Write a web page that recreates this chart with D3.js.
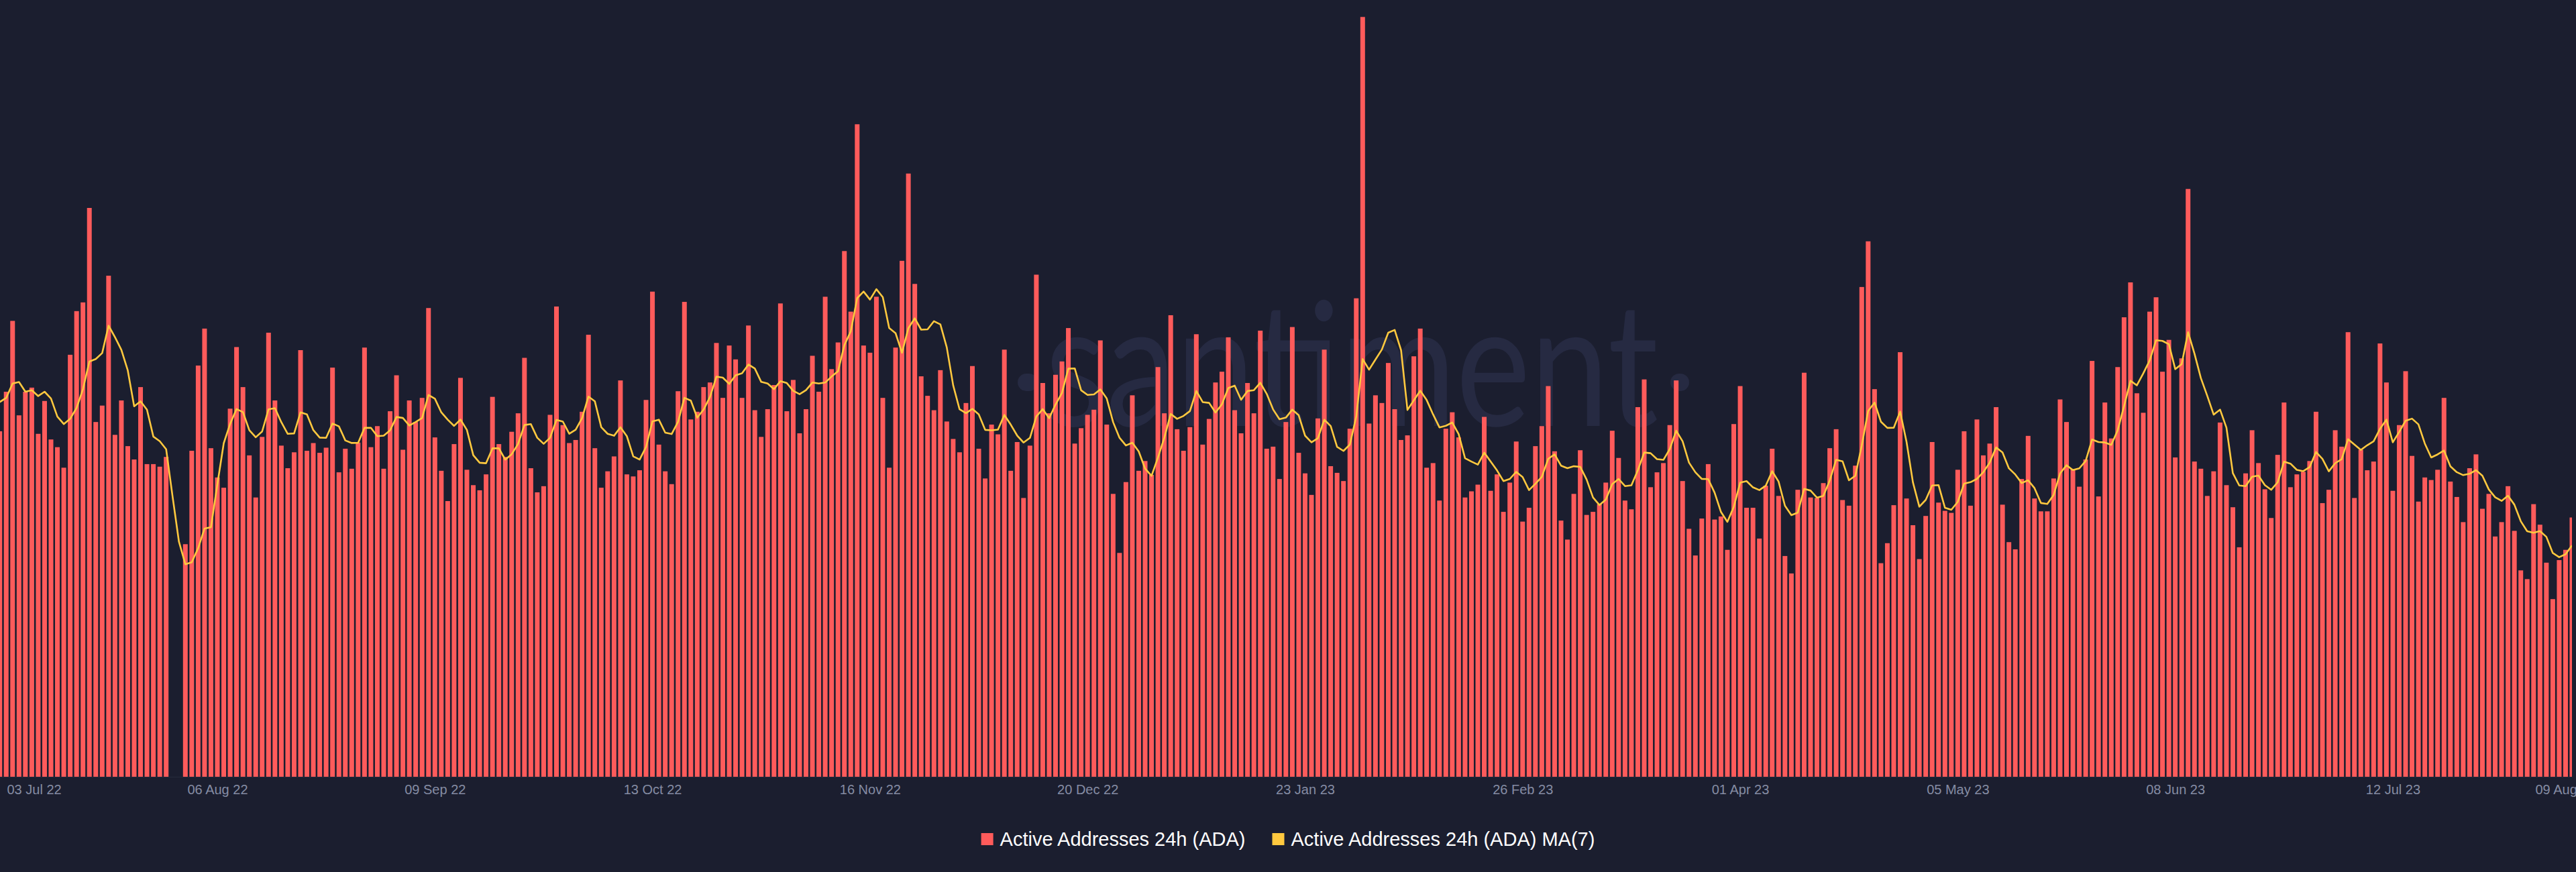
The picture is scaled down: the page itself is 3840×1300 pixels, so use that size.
<!DOCTYPE html>
<html>
<head>
<meta charset="utf-8">
<script src="https://cdn.jsdelivr.net/npm/d3@7"></script>
<style>
html,body{margin:0;padding:0;background:#1b1e2f;}
svg{display:block;}
</style>
</head>
<body>
<svg id="chart" width="3840" height="1300"></svg>
<script>
// ---- Data: Active Addresses 24h (ADA), daily, starting 03 Jul 2022 ----
const jul22 = [67300,75000,88800,70400,75000,75800,66800,73200,65700,64200,60200,82200,90700,92400,110800,69100,72300,97600,66600,73300,64400,61800,75900,60900,60900,60400,62300,null,null];
const aug22 = [45300,63500,80100,87300,64000,58300,56300,71700,83700,75900,62600,54400,66200,86500,73300,64500,60100,63200,83100,63500,65000,63100,64100,79700,59300,63900,60000,65100,83600,64200,68300];
const sep22 = [60000,71200,78200,63700,73300,69100,73800,91300,66100,59600,53700,64800,77700,59800,56800,55800,58900,74000,64800,62300,67200,70800,81600,60100,55400,56600,70500,91600,68500,65000];
const oct22 = [65600,71100,86100,64000,56300,59500,62400,77200,58900,58500,59700,73400,94500,64700,59500,57000,75100,92500,69600,71100,75900,76800,84500,73800,84000,81300,73800,87900,71400,66200,71600];
const nov22 = [76300,92200,71200,77300,66900,71600,82000,75000,93500,79400,84600,102400,90600,127100,84000,82600,93500,73800,60200,83600,100500,117500,96000,78000,74200,71400,79200,69200,65800,63200];
const dec22 = [72800,80000,63900,58100,68600,66700,83200,59600,65200,54300,64500,97800,76700,70800,78300,80900,87400,64900,67900,70500,71500,85000,68600,55100,43600,57400,74300,59600,61500,58800,79800];
const jan23 = [70800,89900,67700,63500,68100,86200,64700,69700,76800,78900,85600,71400,66900,76700,70800,86900,63900,64300,58000,69100,87600,63100,59100,54900,69800,83200,60500,59200,57600,67800,93200];
const feb23 = [148000,68800,74300,72800,80600,71600,65600,66500,81900,87300,60200,61100,53800,67800,71000,66100,54400,55600,56900,70100,55700,58900,51600,57300,65300,49700,52400,64400];
const mar23 = [68300,76100,63400,49900,46200,55100,63600,51000,51600,53100,57300,67400,62100,53800,52100,72000,77400,56400,59300,61100,68500,77200,57600,48300,43100,50300,60900,50100,50700,44200,68700];
const apr23 = [76100,52400,52400,46400,56700,63900,54700,43000,39600,55900,78700,54400,54300,57200,64000,67700,53900,52800,60600,95400,104300,75500,41600,45500,52900,82700,54200,49000,42400,50800];
const may23 = [65200,53400,51800,51400,59800,67300,52800,69600,62600,64900,72000,53000,45700,44300,58000,66400,54200,51700,51700,58100,73500,69100,59900,56500,61800,81000,54600,72900,65900,79800,89500];
const jun23 = [96300,74700,70900,90600,93400,78900,85100,62200,81500,114500,61400,60000,54700,59500,69000,56800,52500,44700,59100,67500,61100,56000,50400,62700,72900,56400,58900,59400,61500,71100];
const jul23 = [53300,55900,67500,64300,86600,54300,63700,59700,61400,84400,76800,55700,68500,79000,62500,53600,58300,57800,59800,73800,57500,54500,49600,60100,62800,52200,55100,46800,49600,56600,47900];
const aug23 = [40200,38500,53100,49100,41700,34600,42200,44200,50500];

// MA(7) values for the first six days (window reaches before the visible range)
const maSeed = [73000,73800,76600,76900,75000,75300];

const startDate = "2022-07-03";
const tickDates = ["2022-07-03","2022-08-06","2022-09-09","2022-10-13","2022-11-16","2022-12-20","2023-01-23","2023-02-26","2023-04-01","2023-05-05","2023-06-08","2023-07-12","2023-08-09"];
const seriesNames = ["Active Addresses 24h (ADA)","Active Addresses 24h (ADA) MA(7)"];
const seriesColors = ["#ff5b5b","#ffc93f"];

// ---- Build ----
const values = [].concat(jul22,aug22,sep22,oct22,nov22,dec22,jan23,feb23,mar23,apr23,may23,jun23,jul23,aug23);
const parse = d3.utcParse("%Y-%m-%d");
const start = parse(startDate);
const data = values.map((v,i)=>({date:d3.utcDay.offset(start,i), value:v}));
data.forEach((d,i)=>{
  d.ma = i < maSeed.length ? maSeed[i] : d3.sum(data.slice(i-6,i+1), e => e.value || 0) / 7;
});

const W = 3840, H = 1300;
const plotRight = 3834, plotBottom = 1158;
const svg = d3.select("#chart");
svg.append("rect").attr("width",W).attr("height",H).attr("fill","#1b1e2f");

const x = d3.scaleUtc()
  .domain([start, d3.utcDay.offset(start, values.length-1)])
  .range([-0.3, plotRight]);
const y = d3.scaleLinear().domain([0,150000]).range([plotBottom,10]);

svg.append("defs").append("clipPath").attr("id","plotclip")
  .append("rect").attr("x",0).attr("y",0).attr("width",plotRight).attr("height",plotBottom);

// Watermark
const wm = svg.append("g").attr("fill","#262a42");
wm.append("text")
  .attr("x",1558).attr("y",635)
  .attr("font-family","Lato, 'Open Sans', sans-serif")
  .attr("font-size",257)
  .attr("textLength",914).attr("lengthAdjust","spacingAndGlyphs")
  .text("santiment");
wm.append("rect").attr("x",1517).attr("y",557).attr("width",30).attr("height",26).attr("rx",13);
wm.append("rect").attr("x",2490).attr("y",557).attr("width",28).attr("height",26).attr("rx",13);

const plot = svg.append("g").attr("clip-path","url(#plotclip)");
const barW = 7;
plot.append("g").selectAll("rect")
  .data(data.filter(d=>d.value!=null))
  .join("rect")
  .attr("x", d => x(d.date) - barW/2)
  .attr("width", barW)
  .attr("y", d => y(d.value))
  .attr("height", d => plotBottom - y(d.value))
  .attr("fill", seriesColors[0]);

const line = d3.line().x(d=>x(d.date)).y(d=>y(d.ma));
plot.append("path").datum(data)
  .attr("d", line)
  .attr("fill","none")
  .attr("stroke", seriesColors[1])
  .attr("stroke-width",2.6)
  .attr("stroke-linejoin","round");

// Axis
const axis = d3.axisBottom(x)
  .tickValues(tickDates.map(parse))
  .tickFormat(d3.utcFormat("%d %b %y"))
  .tickSize(0).tickPadding(12);
const ag = svg.append("g").attr("transform",`translate(0,${plotBottom})`).call(axis);
ag.select(".domain").attr("stroke","#262a3d").attr("stroke-width",1);
ag.selectAll("text")
  .attr("fill","#858ca3")
  .attr("font-size",20)
  .attr("font-family","'Liberation Sans', Arial, sans-serif");
const labels = ag.selectAll(".tick text").nodes();
d3.select(labels[0]).attr("text-anchor","start").attr("x", 10 - x(parse(tickDates[0])));
d3.select(labels[labels.length-1]).attr("text-anchor","start").attr("x", 3779 - x(parse(tickDates[tickDates.length-1])));

// Legend
const lg = svg.append("g").attr("font-family","'Liberation Sans', Arial, sans-serif").attr("font-size",29).attr("fill","#ffffff");
const items = seriesNames.map((name,i)=>{
  const g = lg.append("g");
  g.append("rect").attr("width",18).attr("height",18).attr("y",1242).attr("fill",seriesColors[i]);
  const t = g.append("text").attr("x",28).attr("y",1261).text(name);
  return {g, w: 28 + t.node().getComputedTextLength()};
});
const gap = 40;
const total = d3.sum(items, d=>d.w) + gap*(items.length-1);
let cx = W/2 - total/2;
items.forEach(it=>{ it.g.attr("transform",`translate(${cx},0)`); cx += it.w + gap; });
</script>
</body>
</html>
